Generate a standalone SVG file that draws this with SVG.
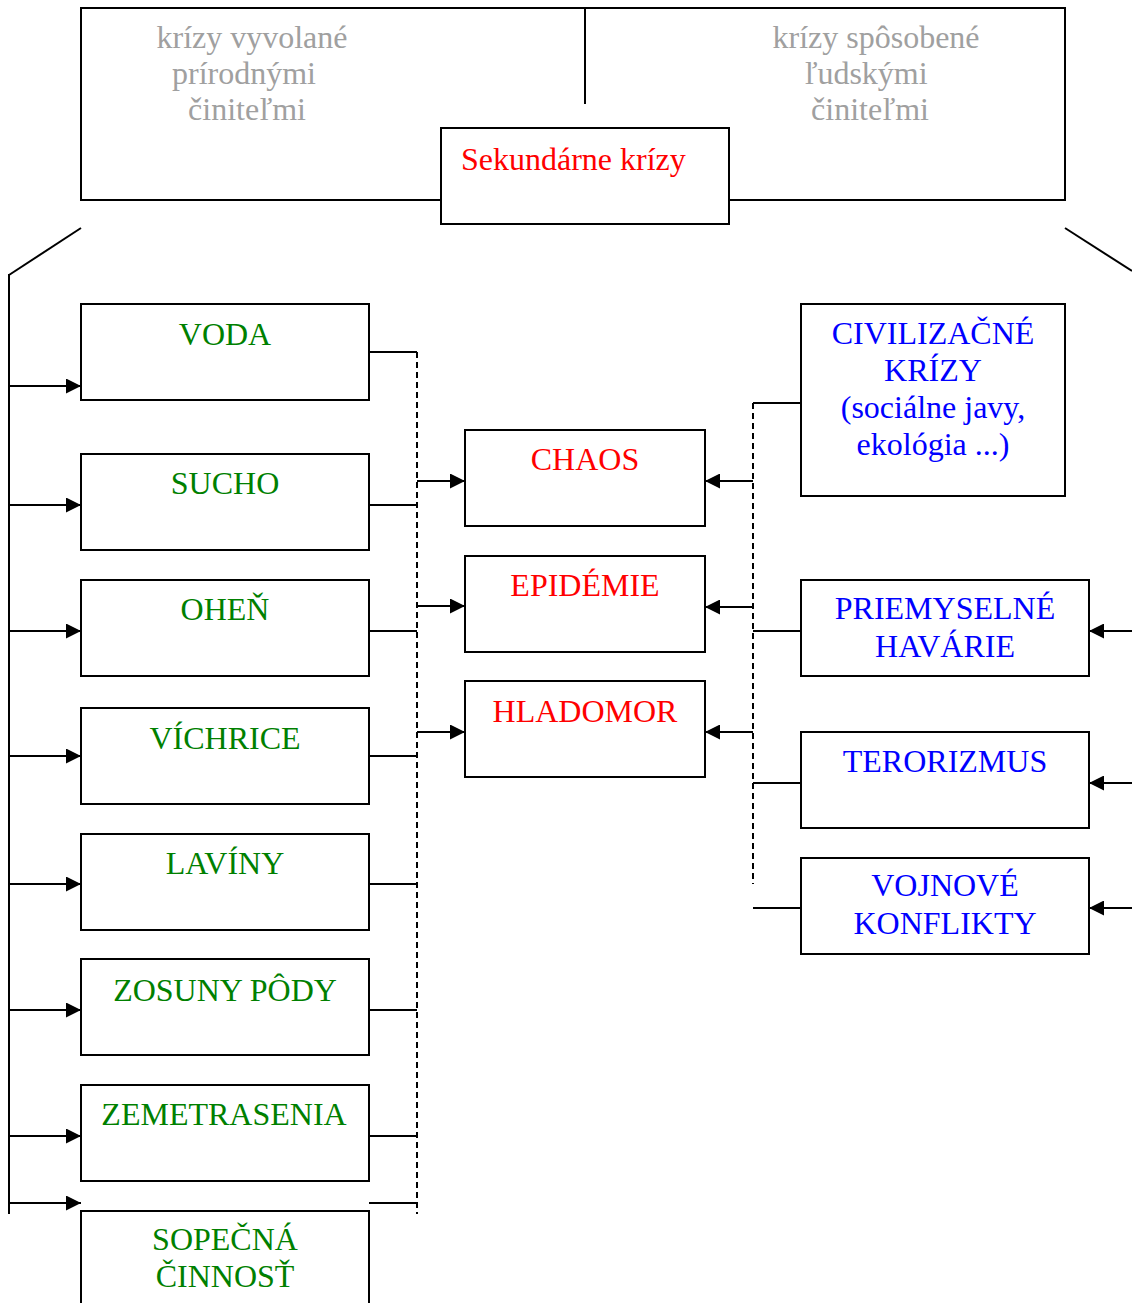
<svg xmlns="http://www.w3.org/2000/svg" width="1132" height="1303" viewBox="0 0 1132 1303">
<style>
  .box { fill: #ffffff; stroke: #000000; stroke-width: 2; }
  .frame { fill: none; stroke: #000000; stroke-width: 2; }
  .t { font-family: "Liberation Serif", "Times New Roman", serif; font-size: 32px; text-anchor: middle; }
  .gray { fill: #a0a0a0; }
  .red { fill: #ff0000; }
  .green { fill: #008000; }
  .blue { fill: #0000ff; }
  .ln { stroke: #000000; stroke-width: 2; fill: none; }
  .dash { stroke: #000000; stroke-width: 2; fill: none; stroke-dasharray: 6 4; }
  .arr { stroke: #000000; stroke-width: 2; fill: none; marker-end: url(#ah); }
</style>
<defs>
  <marker id="ah" viewBox="0 0 15 15" refX="15" refY="7.5" markerWidth="15" markerHeight="15" markerUnits="userSpaceOnUse" orient="auto">
    <path d="M0,0 L15,7.5 L0,15 Z" fill="#000000"/>
  </marker>
</defs>
<rect width="1132" height="1303" fill="#ffffff"/>

<g id="top-frame">
  <rect class="frame" x="81" y="8" width="984" height="192"/>
  <line class="ln" x1="585" y1="8" x2="585" y2="104"/>
  <text class="t gray" x="252" y="48">krízy vyvolané</text>
  <text class="t gray" x="244" y="84">prírodnými</text>
  <text class="t gray" x="247" y="120">činiteľmi</text>
  <text class="t gray" x="876" y="48">krízy spôsobené</text>
  <text class="t gray" x="866" y="84">ľudskými</text>
  <text class="t gray" x="870" y="120">činiteľmi</text>
</g>

<g id="sekundarne">
  <rect class="box" x="441" y="128" width="288" height="96"/>
  <text class="t red" x="461" y="170" style="text-anchor:start">Sekundárne krízy</text>
</g>

<g id="connectors">
  <!-- diagonals -->
  <line class="ln" x1="81" y1="228" x2="9" y2="275"/>
  <line class="ln" x1="1065" y1="228" x2="1132" y2="271"/>
  <!-- left trunk -->
  <line class="ln" x1="9" y1="274" x2="9" y2="1214"/>
  <line class="arr" x1="9" y1="386" x2="81" y2="386"/>
  <line class="arr" x1="9" y1="505" x2="81" y2="505"/>
  <line class="arr" x1="9" y1="631" x2="81" y2="631"/>
  <line class="arr" x1="9" y1="756" x2="81" y2="756"/>
  <line class="arr" x1="9" y1="884" x2="81" y2="884"/>
  <line class="arr" x1="9" y1="1010" x2="81" y2="1010"/>
  <line class="arr" x1="9" y1="1136" x2="81" y2="1136"/>
  <line class="arr" x1="9" y1="1203" x2="81" y2="1203"/>
  <!-- left column outputs -->
  <line class="ln" x1="369" y1="352" x2="417" y2="352"/>
  <line class="ln" x1="369" y1="505" x2="417" y2="505"/>
  <line class="ln" x1="369" y1="631" x2="417" y2="631"/>
  <line class="ln" x1="369" y1="756" x2="417" y2="756"/>
  <line class="ln" x1="369" y1="884" x2="417" y2="884"/>
  <line class="ln" x1="369" y1="1010" x2="417" y2="1010"/>
  <line class="ln" x1="369" y1="1136" x2="417" y2="1136"/>
  <line class="ln" x1="369" y1="1203" x2="417" y2="1203"/>
  <line class="dash" x1="417" y1="352" x2="417" y2="1214"/>
  <line class="arr" x1="417" y1="481" x2="465" y2="481"/>
  <line class="arr" x1="417" y1="606" x2="465" y2="606"/>
  <line class="arr" x1="417" y1="732" x2="465" y2="732"/>
  <!-- right side -->
  <line class="ln" x1="801" y1="403" x2="753" y2="403"/>
  <line class="dash" x1="753" y1="403" x2="753" y2="884"/>
  <line class="arr" x1="753" y1="481" x2="705" y2="481"/>
  <line class="arr" x1="753" y1="607" x2="705" y2="607"/>
  <line class="arr" x1="753" y1="732" x2="705" y2="732"/>
  <line class="ln" x1="753" y1="631" x2="801" y2="631"/>
  <line class="ln" x1="753" y1="783" x2="801" y2="783"/>
  <line class="ln" x1="753" y1="908" x2="801" y2="908"/>
  <line class="arr" x1="1132" y1="631" x2="1089" y2="631"/>
  <line class="arr" x1="1132" y1="783" x2="1089" y2="783"/>
  <line class="arr" x1="1132" y1="908" x2="1089" y2="908"/>
</g>

<g id="voda"><rect class="box" x="81" y="304" width="288" height="96"/><text class="t green" x="225" y="345">VODA</text></g>
<g id="sucho"><rect class="box" x="81" y="454" width="288" height="96"/><text class="t green" x="225" y="494">SUCHO</text></g>
<g id="ohen"><rect class="box" x="81" y="580" width="288" height="96"/><text class="t green" x="225" y="620">OHEŇ</text></g>
<g id="vichrice"><rect class="box" x="81" y="708" width="288" height="96"/><text class="t green" x="225" y="749">VÍCHRICE</text></g>
<g id="laviny"><rect class="box" x="81" y="834" width="288" height="96"/><text class="t green" x="225" y="874">LAVÍNY</text></g>
<g id="zosuny"><rect class="box" x="81" y="959" width="288" height="96"/><text class="t green" x="225" y="1001">ZOSUNY PÔDY</text></g>
<g id="zemetrasenia"><rect class="box" x="81" y="1085" width="288" height="96"/><text class="t green" x="224" y="1125">ZEMETRASENIA</text></g>
<g id="sopecna"><rect class="box" x="81" y="1211" width="288" height="110"/><text class="t green" x="225" y="1250">SOPEČNÁ</text><text class="t green" x="225" y="1287">ČINNOSŤ</text></g>

<g id="chaos"><rect class="box" x="465" y="430" width="240" height="96"/><text class="t red" x="585" y="470">CHAOS</text></g>
<g id="epidemie"><rect class="box" x="465" y="556" width="240" height="96"/><text class="t red" x="585" y="596">EPIDÉMIE</text></g>
<g id="hladomor"><rect class="box" x="465" y="681" width="240" height="96"/><text class="t red" x="585" y="722">HLADOMOR</text></g>

<g id="civilizacne"><rect class="box" x="801" y="304" width="264" height="192"/>
  <text class="t blue" x="933" y="344">CIVILIZAČNÉ</text>
  <text class="t blue" x="933" y="381">KRÍZY</text>
  <text class="t blue" x="933" y="418">(sociálne javy,</text>
  <text class="t blue" x="933" y="455">ekológia ...)</text>
</g>
<g id="priemyselne"><rect class="box" x="801" y="580" width="288" height="96"/><text class="t blue" x="945" y="619">PRIEMYSELNÉ</text><text class="t blue" x="945" y="657">HAVÁRIE</text></g>
<g id="terorizmus"><rect class="box" x="801" y="732" width="288" height="96"/><text class="t blue" x="945" y="772">TERORIZMUS</text></g>
<g id="vojnove"><rect class="box" x="801" y="858" width="288" height="96"/><text class="t blue" x="945" y="896">VOJNOVÉ</text><text class="t blue" x="945" y="934">KONFLIKTY</text></g>
</svg>
